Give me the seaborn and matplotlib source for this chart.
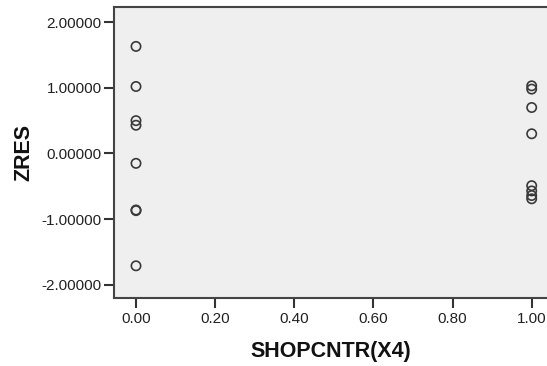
import matplotlib
matplotlib.use("Agg")
import matplotlib.pyplot as plt
import seaborn as sns
import pandas as pd

shopcntr = [0, 0, 0, 0, 0, 0, 0, 0, 1, 1, 1, 1, 1, 1, 1, 1]
zres = [1.63, 1.02, 0.50, 0.43, -0.15, -0.86, -0.87, -1.71,
        1.03, 0.98, 0.70, 0.30, -0.49, -0.57, -0.64, -0.69]
xticks = [0.0, 0.2, 0.4, 0.6, 0.8, 1.0]
yticks = [-2, -1, 0, 1, 2]

df = pd.DataFrame({"SHOPCNTR(X4)": shopcntr, "ZRES": zres})

sns.set_style("white")
plt.rcParams["font.family"] = ["Liberation Sans", "DejaVu Sans"]

fig = plt.figure(figsize=(5.47, 3.66), dpi=100)
ax = fig.add_axes([114 / 547, 68 / 366, 1 - 114 / 547, 291 / 366])
ax.set_facecolor("#efefef")

sns.scatterplot(data=df, x="SHOPCNTR(X4)", y="ZRES", ax=ax, s=45,
                facecolors="none", edgecolor="#3a3a3a", linewidth=1.2, marker="o")

ax.set_xlim(-0.0556, 1.0387)
ax.set_ylim(-2.2, 2.23)
ax.set_xticks(xticks)
ax.set_xticklabels([f"{v:.2f}" for v in xticks])
ax.set_yticks(yticks)
ax.set_yticklabels([f"{v:.5f}" for v in yticks])
ax.tick_params(axis="both", which="major", bottom=True, left=True, direction="out",
               length=7, width=1.5, color="#333333",
               labelsize=11, labelcolor="#222222", pad=2)
ax.tick_params(axis="x", pad=3)
for side in ["left", "bottom", "top"]:
    ax.spines[side].set_color("#444444")
    ax.spines[side].set_linewidth(1.5)
ax.spines["right"].set_visible(False)

ax.set_xlabel("SHOPCNTR(X4)", fontsize=15.5, fontweight="bold", labelpad=11, color="#111111")
ax.set_ylabel("ZRES", fontsize=15.5, fontweight="bold", labelpad=5, color="#111111")

fig.savefig("out.png", dpi=100)
